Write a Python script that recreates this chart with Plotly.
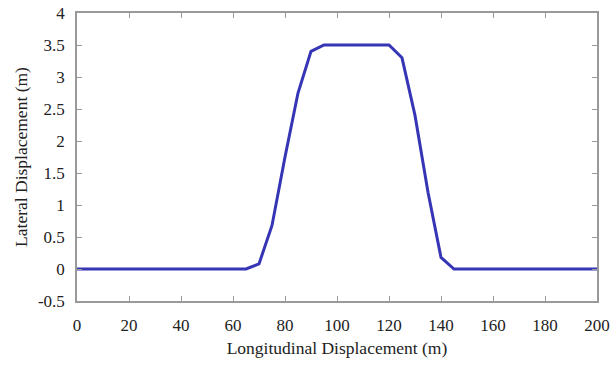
import plotly.graph_objects as go

x_vals = [0, 5, 10, 15, 20, 25, 30, 35, 40, 45, 50, 55, 60, 65, 70, 75, 80, 85, 90, 95,
          100, 105, 110, 115, 120, 125, 130, 135, 140, 145, 150, 155, 160, 165, 170,
          175, 180, 185, 190, 195, 200]
y_vals = [0, 0, 0, 0, 0, 0, 0, 0, 0, 0, 0, 0, 0, 0, 0.08, 0.68, 1.75, 2.75, 3.4, 3.5,
          3.5, 3.5, 3.5, 3.5, 3.5, 3.3, 2.4, 1.2, 0.18, 0, 0, 0, 0, 0, 0,
          0, 0, 0, 0, 0, 0]
x_ticks = [0, 20, 40, 60, 80, 100, 120, 140, 160, 180, 200]
y_ticks = [-0.5, 0, 0.5, 1, 1.5, 2, 2.5, 3, 3.5, 4]
y_ticklabels = ["-0.5", "0", "0.5", "1", "1.5", "2", "2.5", "3", "3.5", "4"]

fig = go.Figure()
fig.add_trace(go.Scatter(x=x_vals, y=y_vals, mode="lines",
                         line=dict(color="#3535B5", width=3), showlegend=False))

tick_font = dict(family="Liberation Serif, Times New Roman, serif", size=17, color="#222222")
title_font = dict(family="Liberation Serif, Times New Roman, serif", size=17.5, color="#222222")
axis_common = dict(showgrid=False, zeroline=False, showline=True, linecolor="#999999",
                   linewidth=1.5, mirror="ticks", ticks="inside", ticklen=5,
                   tickcolor="#999999", tickwidth=1.2, tickfont=tick_font,
                   automargin=False)

fig.update_layout(
    width=615, height=367,
    margin=dict(l=77, r=18, t=13, b=66),
    paper_bgcolor="white", plot_bgcolor="white",
    font=tick_font,
    xaxis=dict(range=[0, 200], tickvals=x_ticks, ticklabelstandoff=8,
               title=dict(text="Longitudinal Displacement (m)", font=title_font, standoff=8),
               **axis_common),
    yaxis=dict(range=[-0.5, 4], tickvals=y_ticks, ticktext=y_ticklabels,
               ticklabelstandoff=7,
               title=dict(text="Lateral Displacement (m)", font=title_font, standoff=6),
               **axis_common),
)

fig.write_html("out.html")
